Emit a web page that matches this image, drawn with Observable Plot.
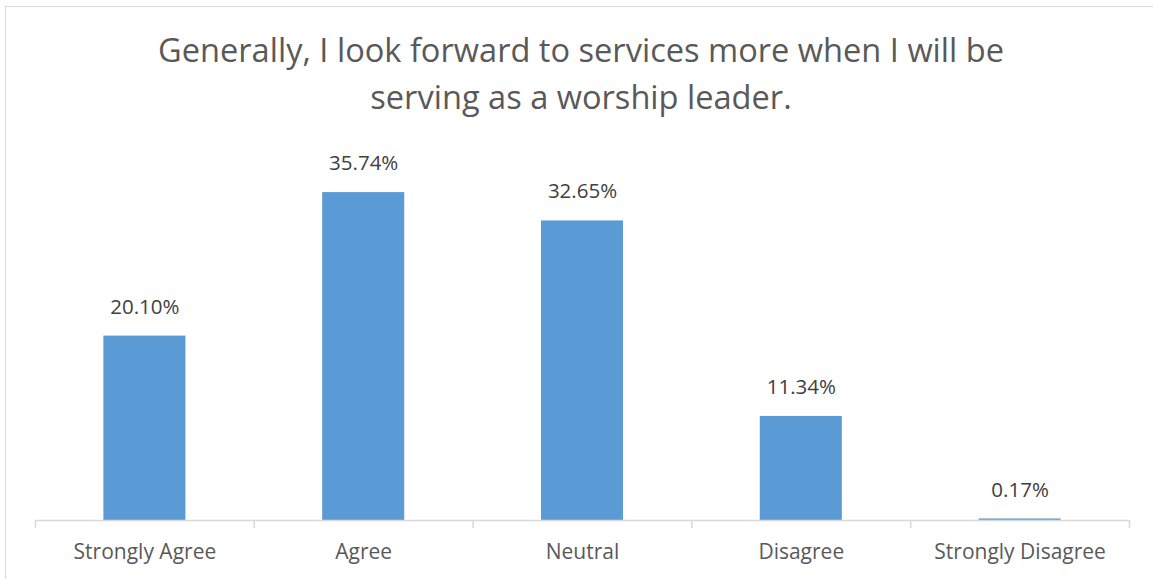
<!DOCTYPE html>
<html>
<head>
<meta charset="utf-8">
<script src="https://cdn.jsdelivr.net/npm/d3@7"></script>
<script src="https://cdn.jsdelivr.net/npm/@observablehq/plot@0.6"></script>
<style>
  html, body { margin: 0; padding: 0; background: #fff; }
  #wrap { position: relative; width: 1153px; height: 579px; overflow: hidden; font-family: "Open Sans", sans-serif; }
  #frame { position: absolute; left: 5px; top: 6px; width: 1160px; height: 600px; border: 1px solid #d9d9d9; box-sizing: border-box; }
  #title { position: absolute; left: 5px; top: 0; width: 1152px; height: 140px; text-align: center; color: #595959; font-size: 32.6px; line-height: 47px; padding-top: 26px; box-sizing: border-box; white-space: nowrap; }
  #chart { position: absolute; left: 0; top: 140px; }
</style>
</head>
<body>
<div id="wrap">
  <div id="frame"></div>
  <div id="title">Generally, I look forward to services more when I will be<br>serving as a worship leader.</div>
  <div id="chart"></div>
</div>
<script>
const categories = ["Strongly Agree", "Agree", "Neutral", "Disagree", "Strongly Disagree"];
const percents = [20.10, 35.74, 32.65, 11.34, 0.17];

const data = categories.map((c, i) => ({cat: c, pct: percents[i]}));

const width = 1153, height = 439;
const marginLeft = 35, marginRight = 24, marginTop = 13, marginBottom = 59;
const step = (width - marginLeft - marginRight) / categories.length;

const chart = Plot.plot({
  width, height, marginLeft, marginRight, marginTop, marginBottom,
  style: {fontFamily: "'Open Sans', sans-serif", background: "transparent"},
  x: {domain: categories, paddingInner: 0.625, paddingOuter: 0.3125, round: false, label: null},
  y: {domain: [0, 40], axis: null},
  marks: [
    Plot.barY(data, {x: "cat", y: "pct", fill: "#5B9BD5"}),
    Plot.ruleY([0], {stroke: "#d9d9d9", strokeWidth: 1.5}),
    Plot.ruleX(categories, {x: d => d, y1: 0, y2: 0, dx: -step / 2, insetBottom: -8, stroke: "#d9d9d9", strokeWidth: 1.5}),
    Plot.ruleX([categories[categories.length - 1]], {x: d => d, y1: 0, y2: 0, dx: step / 2, insetBottom: -8, stroke: "#d9d9d9", strokeWidth: 1.5}),
    Plot.text(data, {x: "cat", y: "pct", text: d => d.pct.toFixed(2) + "%", dy: -29, fontSize: 20.5, fill: "#404040"}),
    Plot.axisX({tickSize: 0, tickPadding: 23.5, fontSize: 21, fill: "#595959", label: null})
  ]
});
document.getElementById("chart").appendChild(chart);
</script>
</body>
</html>
